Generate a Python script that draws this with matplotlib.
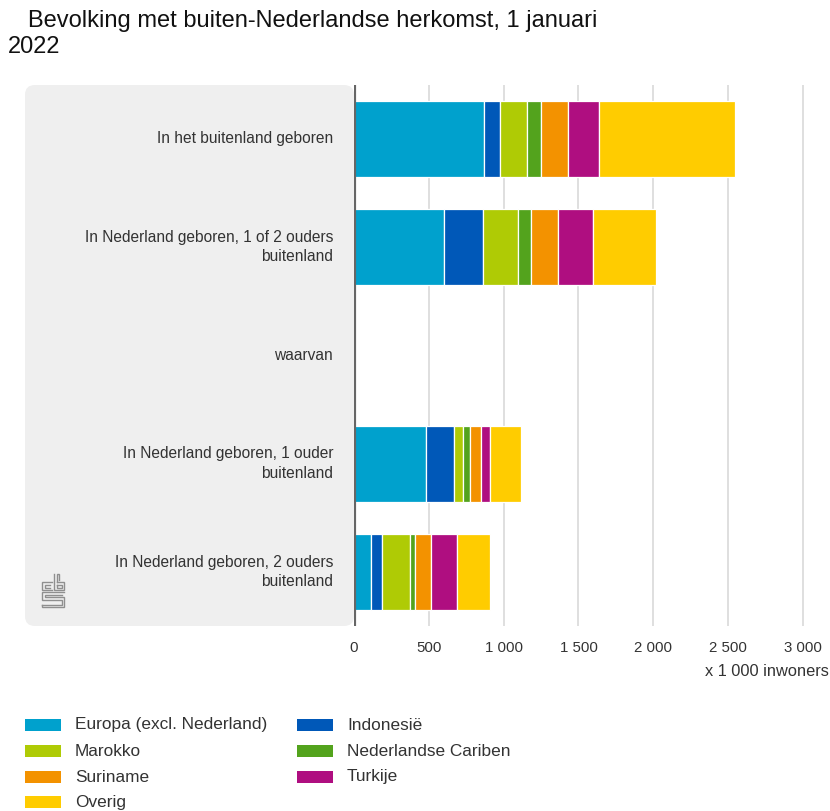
import matplotlib
matplotlib.use("Agg")
import matplotlib.pyplot as plt
from matplotlib.patches import FancyBboxPatch
from matplotlib.lines import Line2D

plt.rcParams['font.family'] = ['Liberation Sans', 'DejaVu Sans']

categories = ["In het buitenland geboren",
              "In Nederland geboren, 1 of 2 ouders\nbuitenland",
              "waarvan",
              "In Nederland geboren, 1 ouder\nbuitenland",
              "In Nederland geboren, 2 ouders\nbuitenland"]
series_names = ["Europa (excl. Nederland)", "Indonesië", "Marokko",
                "Nederlandse Cariben", "Suriname", "Turkije", "Overig"]
europa    = [868, 600, 0, 478, 114]
indonesie = [107, 259, 0, 189, 76]
marokko   = [179, 237, 0, 59, 183]
cariben   = [98, 87, 0, 48, 36]
suriname  = [181, 183, 0, 74, 107]
turkije   = [203, 230, 0, 60, 174]
overig    = [908, 421, 0, 210, 216]
colors = ["#00a1cd", "#0058b8", "#afcb05", "#53a31d", "#f39200", "#af0e80", "#ffcc00"]
xticks = [0, 500, 1000, 1500, 2000, 2500, 3000]
xticklabels = ["0", "500", "1 000", "1 500", "2 000", "2 500", "3 000"]

W, H = 830, 811
fig = plt.figure(figsize=(W/100, H/100), dpi=100)

def fx(px): return px / W
def fy(py): return 1 - py / H

# grey label panel
panel = FancyBboxPatch((fx(25), fy(626)), fx(354) - fx(25), fy(85) - fy(626),
                       boxstyle="round,pad=0,rounding_size=0.012",
                       transform=fig.transFigure, facecolor="#efefef",
                       edgecolor="none", zorder=0)
fig.patches.append(panel)

ax = fig.add_axes([fx(354), fy(626), fx(812) - fx(354), fy(85) - fy(626)])
ax.set_facecolor("none")
scale = (727.7 - 353.6) / 2500.0
ax.set_xlim(0, (812 - 354) / scale)
ax.set_ylim(4.5, -0.5)

ys = list(range(len(categories)))
data = [europa, indonesie, marokko, cariben, suriname, turkije, overig]
left = [0] * len(categories)
for vals, name, col in zip(data, series_names, colors):
    ax.barh(ys, vals, left=left, height=0.7, color=col, edgecolor="white",
            linewidth=0.9, label=name, zorder=3)
    left = [l + v for l, v in zip(left, vals)]

for x in xticks[1:]:
    ax.axvline(x, color="#d9d9d9", lw=1.2, zorder=1)
ax.axvline(0, color="#666666", lw=3, zorder=4)

for s in ax.spines.values():
    s.set_visible(False)
ax.set_xticks(xticks)
ax.set_xticklabels(xticklabels, fontsize=10.8, color="#333333")
ax.tick_params(axis='x', length=0, pad=11)
ax.set_yticks([])

for y, c in zip(ys, categories):
    fig.text(fx(333), fy(139 + y * 108.2), c, ha="right", va="center",
             fontsize=11.2, color="#333333", linespacing=1.35)

fig.text(fx(829), fy(671), "x 1 000 inwoners", ha="right", va="center",
         fontsize=11.8, color="#333333")

fig.text(fx(28), fy(21), "Bevolking met buiten-Nederlandse herkomst, 1 januari",
         ha="left", va="center", fontsize=17, color="#111111")
fig.text(fx(8), fy(47), "2022", ha="left", va="center", fontsize=17,
         color="#111111")

# legend
leg_pos = [(25, 725), (297, 725), (25, 751), (297, 751), (25, 777), (297, 777), (25, 802)]
for (lx, ly), name, col in zip(leg_pos, series_names, colors):
    fig.patches.append(plt.Rectangle((fx(lx), fy(ly + 6)), fx(36), fy(0) - fy(12),
                                     transform=fig.transFigure, facecolor=col,
                                     edgecolor="none"))
    fig.text(fx(lx + 50), fy(ly), name, ha="left", va="center", fontsize=12.4,
             color="#333333")

# simple cbs logo
lc = "#8f8f8f"
def L(xs, ys_):
    fig.lines.append(Line2D([fx(v) for v in xs], [fy(v) for v in ys_],
                            transform=fig.transFigure, color=lc, lw=1.0,
                            solid_joinstyle="miter"))
# c
L([52, 42, 42, 52], [582, 582, 590, 590])
L([50, 44.5, 44.5, 50], [584.5, 584.5, 587.5, 587.5])
# b
L([54, 54, 64, 64, 56.5], [574, 590, 590, 582, 582])
L([56.5, 56.5, 59, 59], [582, 574, 574, 579.5])
L([56.5, 61.5, 61.5, 56.5, 56.5], [584.5, 584.5, 587.5, 587.5, 584.5])
# s
L([64, 42, 42, 61.5, 61.5, 42], [592, 592, 599.5, 599.5, 604.5, 604.5])
L([61.5, 44.5, 44.5, 64, 64, 42, 42], [594.5, 594.5, 597, 597, 607, 607, 604.5])

fig.savefig("out.png", dpi=100)
